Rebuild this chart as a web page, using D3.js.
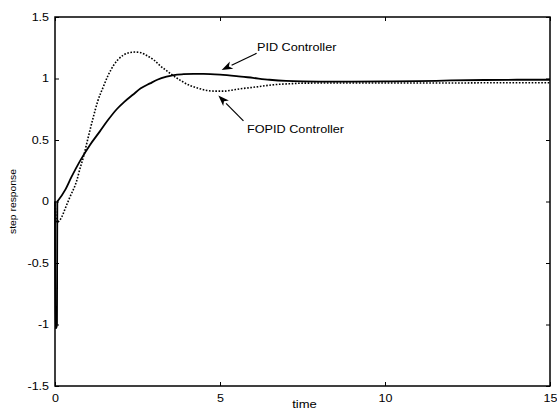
<!DOCTYPE html>
<html>
<head>
<meta charset="utf-8">
<script src="https://cdn.jsdelivr.net/npm/d3@7"></script>
<style>
  html, body { margin: 0; padding: 0; background: #fff; }
  svg { display: block; }
  text { font-family: "Liberation Sans", Arial, sans-serif; fill: #000; }
</style>
</head>
<body>
<svg id="chart" width="557" height="410"></svg>
<script>
// ---- data ----
const pidTime  = [0, 0.01, 0.035, 0.06, 0.07, 0.1, 0.3, 0.5, 0.76, 1.06, 1.36, 1.6, 1.87, 2.1, 2.37, 2.6, 2.88, 3.1, 3.38, 3.6, 3.89, 4.2, 4.5, 5.0, 5.5, 6.0, 6.5, 7.0, 7.5, 8, 9, 10, 11, 12, 13, 14, 15];
const pidValue = [0, -1.03, -1.03, -1.0, 0, 0.01, 0.09, 0.2, 0.33, 0.46, 0.57, 0.66, 0.75, 0.81, 0.87, 0.92, 0.96, 0.99, 1.015, 1.028, 1.035, 1.038, 1.038, 1.032, 1.02, 1.005, 0.99, 0.98, 0.976, 0.975, 0.975, 0.976, 0.978, 0.984, 0.988, 0.99, 0.99];

const fopidTime  = [0, 0.05, 0.15, 0.35, 0.45, 0.66, 0.76, 0.86, 0.96, 1.06, 1.16, 1.3, 1.46, 1.6, 1.77, 1.9, 2.07, 2.25, 2.42, 2.6, 2.78, 3.0, 3.18, 3.4, 3.58, 3.8, 4.09, 4.35, 4.6, 4.85, 5.1, 5.35, 5.6, 5.9, 6.2, 6.45, 6.7, 7.1, 7.5, 8, 9, 10, 11, 12, 13, 14, 15];
const fopidValue = [0, -0.17, -0.15, -0.03, 0.035, 0.17, 0.27, 0.36, 0.47, 0.58, 0.685, 0.82, 0.93, 1.02, 1.105, 1.15, 1.19, 1.21, 1.215, 1.21, 1.187, 1.15, 1.105, 1.06, 1.024, 0.985, 0.943, 0.92, 0.903, 0.897, 0.897, 0.905, 0.916, 0.925, 0.935, 0.944, 0.951, 0.957, 0.962, 0.963, 0.963, 0.963, 0.963, 0.963, 0.965, 0.965, 0.965];

const xTicks = [0, 5, 10, 15];
const xTickLabels = ["0", "5", "10", "15"];
const yTicks = [-1.5, -1, -0.5, 0, 0.5, 1, 1.5];
const yTickLabels = ["-1.5", "-1", "-0.5", "0", "0.5", "1", "1.5"];

const xLabel = "time";
const yLabel = "step response";

// annotations in data units: [text, textT, textV, arrowFromT, arrowFromV, arrowToT, arrowToV]
const annotations = [
  ["PID Controller",   6.12, 1.22, 6.11, 1.205, 5.05, 1.07],
  ["FOPID Controller", 5.82, 0.56, 5.71, 0.655, 4.95, 0.862]
];

// ---- layout ----
const svg = d3.select("#chart");
const L = 55, R = 550, T = 17, B = 386;
const x = d3.scaleLinear().domain([0, 15]).range([L, R]);
const y = d3.scaleLinear().domain([-1.5, 1.5]).range([B, T]);

function stretch(sel, f) {
  sel.each(function() {
    const w = this.getComputedTextLength();
    d3.select(this).attr("textLength", w * f).attr("lengthAdjust", "spacingAndGlyphs");
  });
}

// frame
svg.append("rect").attr("x", L).attr("y", T).attr("width", R - L).attr("height", B - T)
  .attr("fill", "none").attr("stroke", "#000").attr("stroke-width", 1.5);

// axes with inward ticks
const tk = 4;
const gB = svg.append("g").attr("transform", `translate(0,${B})`)
  .call(d3.axisBottom(x).tickValues(xTicks).tickSize(-tk).tickPadding(9).tickFormat((d, i) => xTickLabels[i]));
const gT = svg.append("g").attr("transform", `translate(0,${T})`)
  .call(d3.axisTop(x).tickValues(xTicks).tickSize(-tk).tickFormat(""));
const gL = svg.append("g").attr("transform", `translate(${L},0)`)
  .call(d3.axisLeft(y).tickValues(yTicks).tickSize(-tk).tickPadding(6).tickFormat((d, i) => yTickLabels[i]));
const gR = svg.append("g").attr("transform", `translate(${R},0)`)
  .call(d3.axisRight(y).tickValues(yTicks).tickSize(-tk).tickFormat(""));

[gB, gT, gL, gR].forEach(g => {
  g.select(".domain").remove();
  g.selectAll(".tick line").attr("stroke", "#000").attr("stroke-width", 1);
});
gB.selectAll(".tick text").attr("font-size", 10).attr("font-family", "Liberation Sans, Arial, sans-serif");
gL.selectAll(".tick text").attr("font-size", 10).attr("font-family", "Liberation Sans, Arial, sans-serif");
stretch(gB.selectAll(".tick text"), 1.25);
stretch(gL.selectAll(".tick text"), 1.25);

// axis labels
const tl = svg.append("text").attr("x", (L + R) / 2 + 2).attr("y", 408).attr("text-anchor", "middle")
  .attr("font-size", 10).text(xLabel);
stretch(tl, 1.3);
const yl = svg.append("text").attr("transform", `translate(16,${(T + B) / 2}) rotate(-90)`)
  .attr("text-anchor", "middle").attr("font-size", 9).text(yLabel);
stretch(yl, 1.15);

// lines
const line = d3.line().x(d => x(d[0])).y(d => y(d[1])).curve(d3.curveMonotoneX);
const pidData = pidTime.map((t, i) => [t, pidValue[i]]);
const fopidData = fopidTime.map((t, i) => [t, fopidValue[i]]);

svg.append("path").datum(fopidData).attr("d", line)
  .attr("fill", "none").attr("stroke", "#000").attr("stroke-width", 1.6)
  .attr("stroke-dasharray", "1.6,1.6");
svg.append("path").datum(pidData).attr("d", line)
  .attr("fill", "none").attr("stroke", "#000").attr("stroke-width", 1.8)
  .attr("stroke-linejoin", "round");

// annotations
annotations.forEach(a => {
  const [txt, tt, tv, ft, fv, at, av] = a;
  const t = svg.append("text").attr("x", x(tt)).attr("y", y(tv)).attr("font-size", 11).text(txt);
  stretch(t, 1.15);
  const x1 = x(ft), y1 = y(fv), x2 = x(at), y2 = y(av);
  const ang = Math.atan2(y2 - y1, x2 - x1);
  const hl = 11, hw = 4;
  const bx = x2 - hl * Math.cos(ang), by = y2 - hl * Math.sin(ang);
  svg.append("line").attr("x1", x1).attr("y1", y1).attr("x2", bx).attr("y2", by)
    .attr("stroke", "#000").attr("stroke-width", 1.2);
  const px = -Math.sin(ang), py = Math.cos(ang);
  svg.append("path")
    .attr("d", `M${x2},${y2}L${bx + hw * px},${by + hw * py}L${bx + 3 * Math.cos(ang)},${by + 3 * Math.sin(ang)}L${bx - hw * px},${by - hw * py}Z`)
    .attr("fill", "#000");
});
</script>
</body>
</html>
